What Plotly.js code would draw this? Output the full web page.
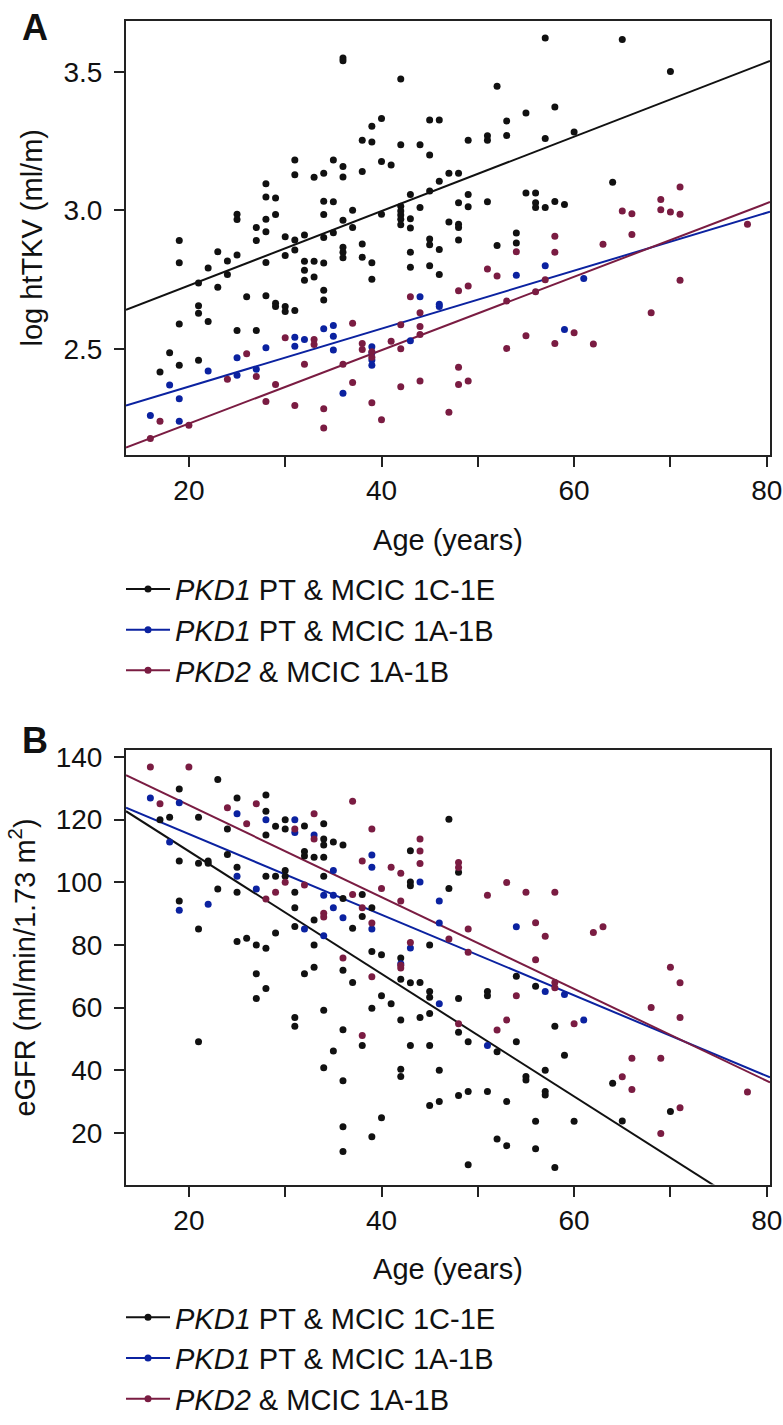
<!DOCTYPE html>
<html lang="en">
<head>
  <meta charset="UTF-8">
  <title>htTKV and eGFR by age</title>
  <script src="https://cdn.plot.ly/plotly-3.0.1.min.js"></script>
  <style>
    body { margin: 0; background: #fff; }
  </style>
</head>
<body>
  <div id="plot"></div>

  <script>
    // group colours
    const cBlack = '#111111';
    const cBlue = '#0b22a0';
    const cMaroon = '#7a1c42';

    const groupNames = [
      '<i>PKD1</i> PT & MCIC 1C-1E',
      '<i>PKD1</i> PT & MCIC 1A-1B',
      '<i>PKD2</i> & MCIC 1A-1B'
    ];

    // ---- panel A: log htTKV (ml/m) vs age ----
    const aBlackAge = [17, 18, 19, 19, 19, 19, 21, 21, 21, 21, 22, 22, 23, 23, 24, 24, 25, 25, 25, 25, 26,
      27, 27, 27, 28, 28, 28, 28, 28, 28, 29, 29, 29, 29, 30, 30, 30, 30, 31, 31, 31, 31, 31,
      32, 32, 32, 32, 33, 33, 33, 34, 34, 34, 34, 34, 34, 34, 35, 35, 35,
      36, 36, 36, 36, 36, 36, 36, 36, 37, 37, 38, 38, 38, 38, 39, 39, 39, 39, 40, 40, 40, 41,
      42, 42, 42, 42, 42, 42, 42, 43, 43, 43, 43, 43, 44, 44, 45, 45, 45, 45, 45, 45,
      46, 46, 46, 46, 47, 47, 48, 48, 48, 48, 48, 49, 49, 49, 51, 51, 51, 52, 52, 53, 53,
      54, 54, 55, 55, 56, 56, 56, 57, 57, 57, 58, 58, 59, 60, 64, 65, 70];
    const aBlackVal = [2.417, 2.486, 2.891, 2.811, 2.590, 2.441, 2.738, 2.656, 2.629, 2.459, 2.792, 2.599,
      2.851, 2.723, 2.817, 2.769, 2.986, 2.967, 2.839, 2.567, 2.688, 2.938, 2.891, 2.567,
      3.096, 3.048, 2.968, 2.923, 2.812, 2.692, 3.045, 2.985, 2.665, 2.653, 2.905, 2.837, 2.653, 2.635,
      3.182, 3.128, 2.893, 2.857, 2.639, 2.911, 2.816, 2.784, 2.748, 3.119, 2.816, 2.760,
      3.134, 3.033, 2.985, 2.902, 2.810, 2.712, 2.677, 3.182, 3.031, 2.919,
      3.550, 3.540, 3.158, 3.120, 2.964, 2.867, 2.849, 2.829, 3.000, 2.938, 3.253, 3.140, 2.879, 2.831,
      3.303, 3.247, 2.811, 2.751, 3.331, 3.176, 2.986, 3.164,
      3.474, 3.237, 3.015, 2.998, 2.983, 2.968, 2.948, 3.057, 2.970, 2.936, 2.849, 2.795, 3.237, 3.010,
      3.326, 3.200, 3.070, 2.897, 2.876, 2.800, 3.326, 3.105, 2.859, 2.769, 3.134, 2.958,
      3.134, 3.027, 2.950, 2.938, 2.893, 3.253, 3.057, 3.013, 3.269, 3.253, 3.031, 3.448, 2.873,
      3.322, 3.270, 2.918, 2.882, 3.351, 3.063, 3.063, 3.027, 3.010, 3.622, 3.259, 3.010,
      3.373, 3.032, 3.021, 3.283, 3.101, 3.616, 3.501];

    const aBlueAge = [16, 18, 19, 19, 22, 25, 25, 27, 28, 31, 31, 32, 34, 35, 35, 35, 36, 39, 39, 39, 39,
      43, 44, 46, 46, 54, 57, 59, 61];
    const aBlueVal = [2.260, 2.370, 2.320, 2.239, 2.420, 2.468, 2.405, 2.427, 2.504, 2.542, 2.510, 2.534,
      2.573, 2.585, 2.546, 2.496, 2.340, 2.508, 2.486, 2.460, 2.441, 2.530, 2.688, 2.661, 2.653,
      2.766, 2.800, 2.570, 2.754];

    const aMaroonAge = [16, 17, 20, 24, 26, 27, 28, 29, 30, 31, 32, 33, 33, 34, 34, 36, 37, 37, 38, 38,
      39, 39, 39, 40, 41, 42, 42, 42, 43, 44, 44, 44, 44, 47, 48, 48, 48, 49, 49, 51, 52, 53, 53,
      54, 55, 56, 57, 58, 58, 58, 60, 62, 63, 65, 66, 66, 68, 69, 69, 70, 71, 71, 71, 78];
    const aMaroonVal = [2.177, 2.239, 2.225, 2.391, 2.483, 2.401, 2.310, 2.372, 2.540, 2.296, 2.445,
      2.534, 2.516, 2.284, 2.215, 2.445, 2.593, 2.379, 2.520, 2.498, 2.490, 2.470, 2.306, 2.245,
      2.528, 2.587, 2.501, 2.364, 2.688, 2.631, 2.581, 2.552, 2.384, 2.272, 2.710, 2.434, 2.372,
      2.727, 2.384, 2.788, 2.763, 2.673, 2.502, 2.851, 2.548, 2.706, 2.750, 2.907, 2.849, 2.520,
      2.558, 2.518, 2.878, 2.998, 2.988, 2.913, 2.631, 3.039, 3.002, 2.994, 3.084, 2.986, 2.748, 2.950];

    // ---- panel B: eGFR vs age ----
    const bBlackAge = [17, 18, 19, 19, 19, 21, 21, 21, 21, 22, 22, 23, 23, 24, 24, 25, 25, 25, 25, 26,
      27, 27, 27, 28, 28, 28, 28, 28, 28, 29, 29, 29, 30, 30, 30, 30, 31, 31, 31, 31, 31,
      32, 32, 32, 32, 33, 33, 33, 33, 34, 34, 34, 34, 34, 34, 34, 35, 35,
      36, 36, 36, 36, 36, 36, 36, 37, 37, 38, 38, 38, 39, 39, 39, 39, 40, 40, 40, 41,
      42, 42, 42, 42, 42, 43, 43, 43, 43, 43, 44, 44, 45, 45, 45, 45, 45, 45, 46, 46,
      47, 47, 48, 48, 48, 48, 49, 49, 49, 51, 51, 51, 52, 52, 53, 53, 54, 54, 55, 55,
      56, 56, 56, 57, 57, 57, 58, 58, 59, 60, 64, 65, 70];
    const bBlackVal = [120.0, 120.8, 129.8, 106.8, 94.0, 120.8, 106.1, 85.1, 49.1, 106.8, 106.1, 132.8, 97.9,
      117.0, 108.9, 126.9, 104.8, 96.8, 81.1, 82.1, 80.0, 70.8, 62.9,
      127.9, 122.7, 115.1, 101.9, 78.9, 66.1, 117.9, 101.9, 83.8, 120.0, 117.0, 103.8, 101.9,
      96.8, 91.9, 85.9, 56.8, 54.0, 118.0, 109.8, 108.4, 70.8, 108.0, 88.0, 80.0, 72.9,
      118.7, 113.8, 111.9, 108.0, 101.9, 59.1, 40.8, 112.9, 46.1,
      111.9, 94.8, 71.9, 52.9, 36.6, 21.9, 14.0, 85.3, 68.0, 96.1, 89.1, 47.9,
      91.9, 77.9, 59.8, 18.7, 76.9, 63.8, 24.8, 61.2,
      75.8, 69.0, 56.0, 40.3, 38.0, 110.1, 100.1, 98.9, 67.9, 47.9, 68.0, 56.8,
      80.0, 65.1, 63.3, 58.1, 47.9, 28.7, 40.0, 30.0,
      120.1, 98.0, 103.2, 62.9, 52.1, 31.9, 49.1, 33.2, 9.8, 65.1, 63.8, 33.2, 45.9, 18.0,
      30.0, 15.9, 70.0, 49.1, 38.0, 36.9, 66.8, 23.7, 14.9, 40.0, 33.2, 32.1,
      54.0, 8.9, 44.8, 23.7, 35.8, 23.8, 26.8];

    const bBlueAge = [16, 18, 19, 19, 22, 25, 25, 27, 28, 31, 31, 32, 33, 34, 34, 35, 35, 35, 36,
      39, 39, 39, 42, 43, 44, 46, 46, 46, 51, 54, 57, 59, 61];
    const bBlueVal = [126.9, 112.9, 125.4, 91.1, 93.0, 121.9, 101.9, 97.9, 120.0, 120.0, 115.9, 85.1,
      115.1, 95.9, 82.9, 103.8, 95.9, 91.9, 88.7, 108.7, 104.8, 85.1, 74.0, 79.0, 100.1,
      94.0, 87.0, 61.2, 47.9, 85.8, 65.1, 64.2, 56.0];

    const bMaroonAge = [16, 17, 20, 24, 26, 27, 28, 29, 30, 31, 32, 33, 33, 34, 34, 36, 37, 37, 38, 38, 38,
      39, 39, 39, 40, 41, 42, 42, 42, 42, 43, 44, 44, 44, 47, 48, 48, 48, 49, 49, 51, 52, 53, 53,
      54, 55, 56, 56, 57, 58, 58, 58, 60, 62, 63, 65, 66, 66, 68, 69, 69, 70, 71, 71, 71, 78];
    const bMaroonVal = [136.8, 125.1, 136.8, 123.8, 118.7, 125.1, 94.7, 96.8, 100.0, 117.0, 99.1,
      121.9, 113.8, 90.1, 88.9, 75.8, 125.9, 96.1, 106.8, 91.9, 51.1, 117.0, 87.0, 69.8, 98.0,
      104.8, 102.9, 94.0, 73.5, 72.6, 80.8, 113.8, 110.0, 106.0, 81.9, 106.3, 104.7, 54.8,
      85.1, 77.7, 95.9, 52.8, 99.9, 56.0, 63.8, 96.8, 87.1, 75.3, 82.8, 96.8, 68.0, 66.3,
      54.8, 84.0, 85.8, 37.9, 43.8, 33.8, 60.0, 43.8, 19.8, 72.9, 67.9, 56.8, 28.0, 33.0];

    // fitted regression lines, read at the left and right edges of the x range
    const fitAge = [13.47, 80.34];
    const aFitBlack = [2.641, 3.539];
    const aFitBlue = [2.296, 2.995];
    const aFitMaroon = [2.144, 3.030];
    const bFitBlack = [122.7, -8.2];
    const bFitBlue = [123.8, 37.7];
    const bFitMaroon = [134.2, 36.1];

    const font = 'Liberation Sans, Arial, Helvetica, sans-serif';

    function dots(x, y, color, ax) {
      return {
        x: x, y: y, type: 'scatter', mode: 'markers',
        marker: { color: color, size: 7 },
        xaxis: 'x' + ax, yaxis: 'y' + ax,
        showlegend: false, hoverinfo: 'x+y'
      };
    }

    function fit(y, color, ax) {
      return {
        x: fitAge, y: y, type: 'scatter', mode: 'lines',
        line: { color: color, width: 2 },
        xaxis: 'x' + ax, yaxis: 'y' + ax,
        showlegend: false, hoverinfo: 'skip'
      };
    }

    // legend-only entries (line with dot)
    function key(name, color, ax, legend) {
      return {
        x: [null], y: [null], type: 'scatter', mode: 'lines+markers',
        name: name, legend: legend,
        line: { color: color, width: 2 },
        marker: { color: color, size: 7 },
        xaxis: 'x' + ax, yaxis: 'y' + ax
      };
    }

    const traces = [
      fit(aFitBlack, cBlack, ''), fit(aFitBlue, cBlue, ''), fit(aFitMaroon, cMaroon, ''),
      dots(aBlackAge, aBlackVal, cBlack, ''),
      dots(aBlueAge, aBlueVal, cBlue, ''),
      dots(aMaroonAge, aMaroonVal, cMaroon, ''),
      key(groupNames[0], cBlack, '', 'legend'),
      key(groupNames[1], cBlue, '', 'legend'),
      key(groupNames[2], cMaroon, '', 'legend'),

      fit(bFitBlack, cBlack, '2'), fit(bFitBlue, cBlue, '2'), fit(bFitMaroon, cMaroon, '2'),
      dots(bBlackAge, bBlackVal, cBlack, '2'),
      dots(bBlueAge, bBlueVal, cBlue, '2'),
      dots(bMaroonAge, bMaroonVal, cMaroon, '2'),
      key(groupNames[0], cBlack, '2', 'legend2'),
      key(groupNames[1], cBlue, '2', 'legend2'),
      key(groupNames[2], cMaroon, '2', 'legend2')
    ];

    const W = 783, H = 1425;
    const px = v => v / W;
    const py = v => 1 - v / H;

    const xCommon = {
      range: [13.47, 80.34],
      tick0: 0, dtick: 20,
      ticks: 'outside', ticklen: 10, tickwidth: 2, tickcolor: '#222',
      minor: { tick0: 0, dtick: 10, ticks: 'outside', ticklen: 10, tickwidth: 2, tickcolor: '#222', showgrid: false },
      showline: true, linewidth: 2, linecolor: '#222', mirror: true,
      showgrid: false, zeroline: false, automargin: false,
      tickfont: { size: 28, color: '#111' },
      domain: [px(126), px(770)]
    };

    const yCommon = {
      ticks: 'outside', ticklen: 10, tickwidth: 2, tickcolor: '#222',
      showline: true, linewidth: 2, linecolor: '#222', mirror: true,
      showgrid: false, zeroline: false, automargin: false,
      tickfont: { size: 28, color: '#111' },
      ticklabelstandoff: 6
    };

    const legendCommon = {
      font: { size: 29, color: '#111' },
      xanchor: 'left', yanchor: 'top',
      bgcolor: 'rgba(0,0,0,0)', tracegroupgap: 0,
      itemwidth: 44, itemclick: false
    };

    const layout = {
      width: W, height: H,
      margin: { l: 0, r: 0, t: 0, b: 0 },
      paper_bgcolor: '#fff', plot_bgcolor: '#fff',
      font: { family: font, color: '#111' },
      xaxis: Object.assign({}, xCommon, {
        anchor: 'y',
        title: { text: 'Age (years)', font: { size: 29 }, standoff: 24 }
      }),
      yaxis: Object.assign({}, yCommon, {
        anchor: 'x',
        domain: [py(460), py(21)],
        range: [2.118, 3.684],
        tickvals: [2.5, 3.0, 3.5],
        ticktext: ['2.5', '3.0', '3.5'],
        title: { text: 'log htTKV (ml/m)', font: { size: 29 }, standoff: 12 }
      }),
      xaxis2: Object.assign({}, xCommon, {
        anchor: 'y2',
        title: { text: 'Age (years)', font: { size: 29 }, standoff: 24 }
      }),
      yaxis2: Object.assign({}, yCommon, {
        anchor: 'x2',
        domain: [py(1198), py(759)],
        range: [3.47, 142.1],
        tickvals: [20, 40, 60, 80, 100, 120, 140],
        title: { text: 'eGFR (ml/min/1.73 m<sup>2</sup>)', font: { size: 29 }, standoff: 12 }
      }),
      legend: Object.assign({}, legendCommon, { x: px(121), y: py(570) }),
      legend2: Object.assign({}, legendCommon, { x: px(121), y: py(1307) }),
      annotations: [
        { text: '<b>A</b>', x: px(20), y: py(5), xref: 'paper', yref: 'paper',
          xanchor: 'left', yanchor: 'top', showarrow: false, font: { size: 36, color: '#111' } },
        { text: '<b>B</b>', x: px(20), y: py(726), xref: 'paper', yref: 'paper',
          xanchor: 'left', yanchor: 'top', showarrow: false, font: { size: 36, color: '#111' } }
      ]
    };

    Plotly.newPlot('plot', traces, layout, { displayModeBar: false, staticPlot: true });
  </script>
</body>
</html>
